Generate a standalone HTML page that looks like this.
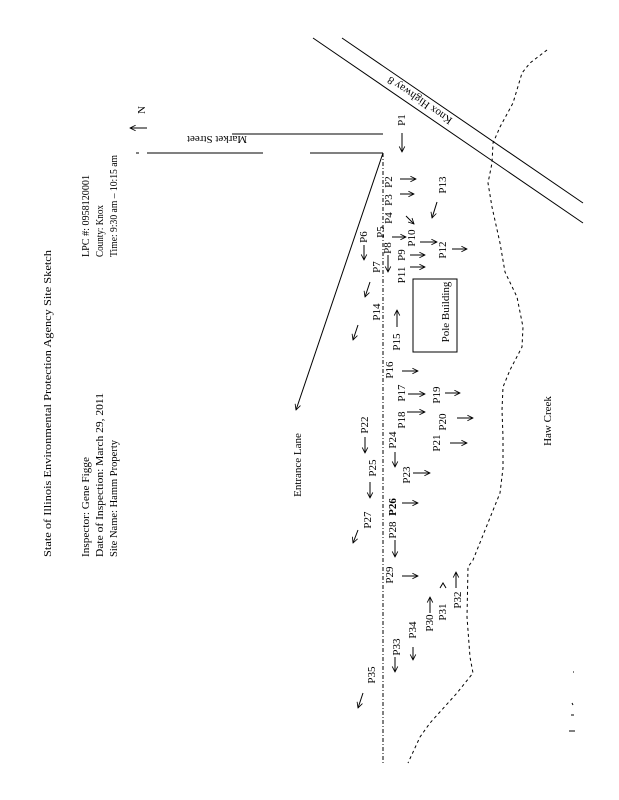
<!DOCTYPE html>
<html><head><meta charset="utf-8"><style>html,body{margin:0;padding:0;background:#fff}svg{display:block}</style></head>
<body>
<svg width="619" height="800" viewBox="0 0 619 800" xmlns="http://www.w3.org/2000/svg" font-family="Liberation Serif, serif" font-size="11" fill="#000">
<defs>
<marker id="a" viewBox="0 0 10 10" refX="9" refY="5" markerWidth="7" markerHeight="7" orient="auto" markerUnits="userSpaceOnUse"><path d="M1,1 L9,5 L1,9" fill="none" stroke="#000" stroke-width="1.2"/></marker>
</defs>
<g stroke="#000" stroke-width="1" fill="none">
<line x1="232" y1="134" x2="383" y2="134"/>
<line x1="147" y1="153" x2="263" y2="153"/>
<line x1="310" y1="153" x2="383" y2="153"/>
<line x1="136" y1="153" x2="139" y2="153"/>
<line x1="313" y1="38" x2="583" y2="223"/>
<line x1="342" y1="38" x2="583" y2="203"/>
<line x1="383" y1="153" x2="383" y2="765" stroke-dasharray="4,2,1,2"/>
<line x1="383" y1="153" x2="296" y2="410" marker-end="url(#a)"/>
<rect x="413" y="279" width="44" height="73"/>
<path d="M547,50 L530,63 L522,73 L513,103 L500,127 L493,143 L492,163 L488,183 L492,207 L500,243 L505,272 L517,297 L523,327 L522,347 L510,370 L503,387 L502,410 L503,437 L503,468 L500,493 L473,560 L468,567 L467,617 L470,657 L473,673 L457,693 L430,723 L420,737 L408,763" stroke-dasharray="3,3"/>
<line x1="147" y1="128" x2="130" y2="128" marker-end="url(#a)"/>
<g marker-end="url(#a)">
<line x1="402" y1="133" x2="402" y2="152"/>
<line x1="400" y1="179" x2="416" y2="179"/>
<line x1="400" y1="194" x2="414" y2="194"/>
<line x1="406" y1="216" x2="414" y2="224"/>
<line x1="437" y1="202" x2="432" y2="218"/>
<line x1="392" y1="237" x2="406" y2="237"/>
<line x1="420" y1="242" x2="437" y2="242"/>
<line x1="410" y1="255" x2="425" y2="255"/>
<line x1="410" y1="267" x2="425" y2="267"/>
<line x1="452" y1="249" x2="467" y2="249"/>
<line x1="388" y1="255" x2="388" y2="272"/>
<line x1="364" y1="245" x2="364" y2="260"/>
<line x1="370" y1="282" x2="365" y2="297"/>
<line x1="358" y1="325" x2="353" y2="340"/>
<line x1="397" y1="327" x2="397" y2="310"/>
<line x1="402" y1="371" x2="418" y2="371"/>
<line x1="408" y1="394" x2="425" y2="394"/>
<line x1="407" y1="412" x2="425" y2="412"/>
<line x1="445" y1="393" x2="460" y2="393"/>
<line x1="457" y1="418" x2="473" y2="418"/>
<line x1="450" y1="443" x2="467" y2="443"/>
<line x1="365" y1="437" x2="365" y2="453"/>
<line x1="395" y1="452" x2="395" y2="467"/>
<line x1="370" y1="482" x2="370" y2="498"/>
<line x1="413" y1="473" x2="430" y2="473"/>
<line x1="402" y1="503" x2="418" y2="503"/>
<line x1="358" y1="530" x2="353" y2="543"/>
<line x1="395" y1="540" x2="395" y2="557"/>
<line x1="402" y1="576" x2="418" y2="576"/>
<line x1="456" y1="588" x2="456" y2="572"/>
<line x1="430" y1="613" x2="430" y2="597"/>
<line x1="413" y1="647" x2="413" y2="660"/>
<line x1="395" y1="657" x2="395" y2="672"/>
<line x1="363" y1="693" x2="358" y2="708"/>
</g>
<path d="M440,588 L443,583 L446,588"/>
<line x1="573" y1="672" x2="574" y2="672"/>
<line x1="572" y1="703" x2="573" y2="705"/>
<line x1="571" y1="715" x2="574" y2="715"/>
<line x1="569" y1="731" x2="575" y2="731"/>
</g>
<g font-size="11">
<text transform="translate(51,557) rotate(-90)" textLength="307" lengthAdjust="spacingAndGlyphs">State of Illinois Environmental Protection Agency Site Sketch</text>
<text transform="translate(89,557) rotate(-90)" textLength="100" lengthAdjust="spacingAndGlyphs">Inspector: Gene Figge</text>
<text transform="translate(103,557) rotate(-90)" textLength="164" lengthAdjust="spacingAndGlyphs">Date of Inspection: March 29, 2011</text>
<text transform="translate(117,557) rotate(-90)" textLength="117" lengthAdjust="spacingAndGlyphs">Site Name: Hamm Property</text>
<text transform="translate(89,257) rotate(-90)" textLength="82" lengthAdjust="spacingAndGlyphs">LPC #: 0958120001</text>
<text transform="translate(103,257) rotate(-90)" textLength="52" lengthAdjust="spacingAndGlyphs">County: Knox</text>
<text transform="translate(117,257) rotate(-90)" textLength="102" lengthAdjust="spacingAndGlyphs">Time: 9:30 am – 10:15 am</text>
<text transform="translate(142,110) rotate(-90)" text-anchor="middle" dominant-baseline="central">N</text>
<text transform="translate(217,139) rotate(180)" text-anchor="middle" dominant-baseline="central">Market Street</text>
<text transform="translate(420,100) rotate(214.4)" text-anchor="middle" dominant-baseline="central">Knox Highway 8</text>
<text transform="translate(298,465) rotate(-90)" text-anchor="middle" dominant-baseline="central">Entrance Lane</text>
<text transform="translate(446,312) rotate(-90)" text-anchor="middle" dominant-baseline="central">Pole Building</text>
<text transform="translate(548,421) rotate(-90)" text-anchor="middle" dominant-baseline="central">Haw Creek</text>
</g>
<g font-size="11" text-anchor="middle" dominant-baseline="central">
<text transform="translate(402,120) rotate(-90)">P1</text>
<text transform="translate(389,182) rotate(-90)">P2</text>
<text transform="translate(389,200) rotate(-90)">P3</text>
<text transform="translate(389,218) rotate(-90)">P4</text>
<text transform="translate(443,185) rotate(-90)">P13</text>
<text transform="translate(381,232) rotate(-90)">P5</text>
<text transform="translate(388,248) rotate(-90)">P8</text>
<text transform="translate(412,238) rotate(-90)">P10</text>
<text transform="translate(402,255) rotate(-90)">P9</text>
<text transform="translate(402,275) rotate(-90)">P11</text>
<text transform="translate(443,250) rotate(-90)">P12</text>
<text transform="translate(377,267) rotate(-90)">P7</text>
<text transform="translate(364,237) rotate(-90)">P6</text>
<text transform="translate(377,312) rotate(-90)">P14</text>
<text transform="translate(397,342) rotate(-90)">P15</text>
<text transform="translate(390,370) rotate(-90)">P16</text>
<text transform="translate(402,393) rotate(-90)">P17</text>
<text transform="translate(402,420) rotate(-90)">P18</text>
<text transform="translate(437,395) rotate(-90)">P19</text>
<text transform="translate(443,422) rotate(-90)">P20</text>
<text transform="translate(437,443) rotate(-90)">P21</text>
<text transform="translate(365,425) rotate(-90)">P22</text>
<text transform="translate(393,440) rotate(-90)">P24</text>
<text transform="translate(373,468) rotate(-90)">P25</text>
<text transform="translate(407,475) rotate(-90)">P23</text>
<text transform="translate(393,507) rotate(-90)" font-weight="bold">P26</text>
<text transform="translate(393,530) rotate(-90)">P28</text>
<text transform="translate(368,520) rotate(-90)">P27</text>
<text transform="translate(390,575) rotate(-90)">P29</text>
<text transform="translate(458,600) rotate(-90)">P32</text>
<text transform="translate(443,612) rotate(-90)">P31</text>
<text transform="translate(430,623) rotate(-90)">P30</text>
<text transform="translate(413,630) rotate(-90)">P34</text>
<text transform="translate(397,647) rotate(-90)">P33</text>
<text transform="translate(372,675) rotate(-90)">P35</text>
</g>
</svg>
</body></html>
